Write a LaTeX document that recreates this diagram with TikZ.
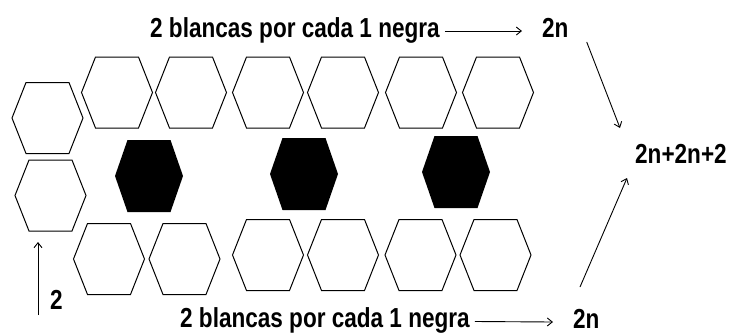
\documentclass[tikz,border=0pt]{standalone}
\usepackage{fontspec}
\usepackage{graphicx}
\setmainfont{Liberation Sans}
\usetikzlibrary{arrows.meta}
\newcommand{\nx}[1]{\scalebox{0.82}[1]{#1}}
\tikzset{
  lbl/.style={inner sep=0pt, anchor=base west, font=\fontsize{27.5}{27.5}\selectfont\bfseries},
  hexline/.style={line width=1pt, line join=miter},
  arr/.style={line width=0.9pt, -{Straight Barb[length=5pt,width=8pt,line width=0.9pt]}},
  hexw/.pic={\draw[hexline] (-35.5,0) -- (-21.5,-35.5) -- (21.5,-35.5) -- (35.5,0) -- (21.5,35.5) -- (-21.5,35.5) -- cycle;},
  hexb/.pic={\fill[black] (-34,0) -- (-21.5,-36) -- (21.5,-36) -- (34,0) -- (21.5,36) -- (-21.5,36) -- cycle;}
}
\begin{document}
\begin{tikzpicture}[x=1pt,y=-1pt]
\useasboundingbox (0,0) rectangle (729,333);
% left column
\pic at (47.5,118) {hexw};
\pic at (50.5,195.5) {hexw};
% top row
\foreach \cx in {117,191,268,343,421,498} \pic at (\cx,92.5) {hexw};
% bottom row
\pic at (109,259) {hexw};
\pic at (184.5,259) {hexw};
\foreach \cx in {268,343,420.5,495.5} \pic at (\cx,255) {hexw};
% black hexes
\pic at (149,176) {hexb};
\pic at (304,174) {hexb};
\pic at (456,172) {hexb};
% texts
\node[lbl] (t1) at (150,37) {\nx{2 blancas por cada 1 negra}};
\node[lbl] (n1) at (542,37) {\nx{2n}};
\node[lbl] (t2) at (180,327.5) {\nx{2 blancas por cada 1 negra}};
\node[lbl] (n2) at (573,328) {\nx{2n}};
\node[lbl] (sum) at (635,163) {\nx{2n+2n+2}};
\node[lbl] (two) at (50,309) {\nx{2}};
% arrows
\draw[arr] ([shift={(5,-6)}]t1.base east) -- ([shift={(-20,-6)}]n1.base west);
\draw[arr] ([shift={(5,-6)}]t2.base east) -- ([shift={(-20,-6)}]n2.base west);
\draw[arr] ([shift={(18,5)}]n1.base east) -- ([shift={(-15,-35)}]sum.base west);
\draw[arr] ([shift={(7,-41)}]n2.base west) -- ([shift={(-8,15)}]sum.base west);
\coordinate (la) at (38,315);
\coordinate (lb) at (38,242);
\draw[arr] (la) -- (lb);
\end{tikzpicture}
\end{document}
